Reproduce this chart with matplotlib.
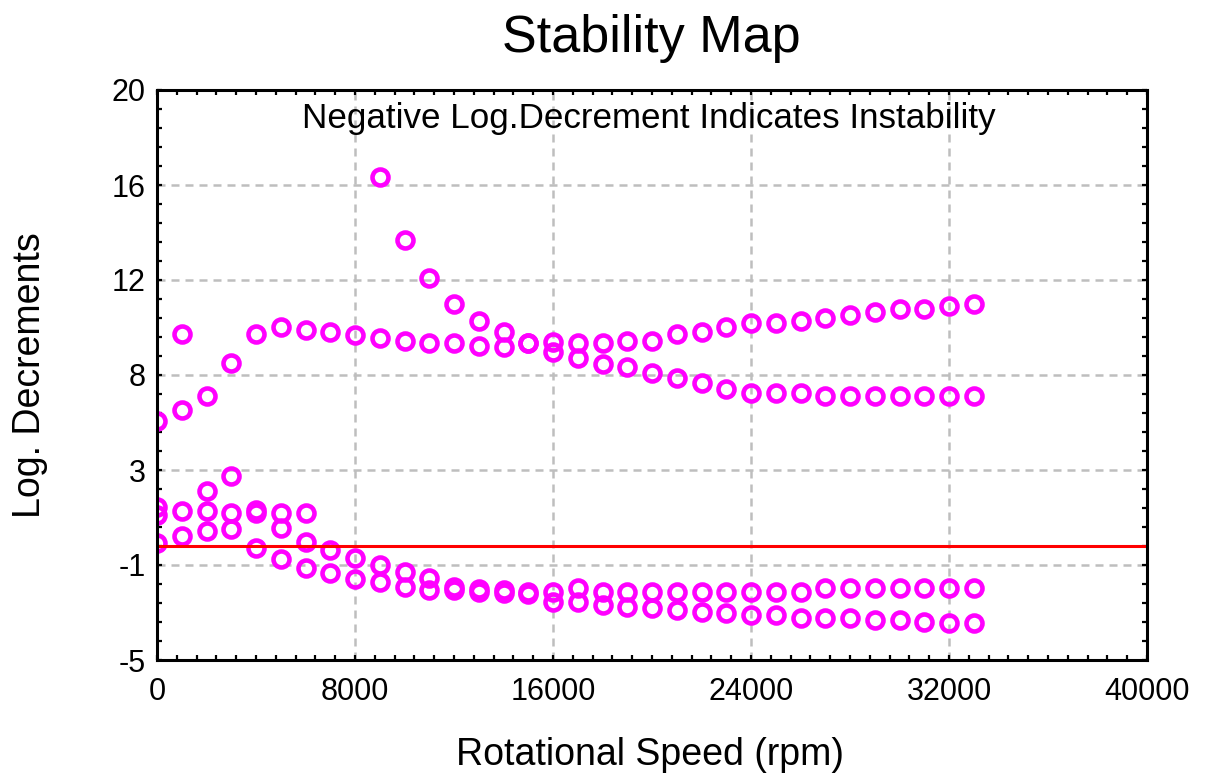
import numpy as np
import matplotlib
matplotlib.use("Agg")
import matplotlib.pyplot as plt
from matplotlib.ticker import FixedLocator, MultipleLocator

plt.rcParams['font.family'] = ['Liberation Sans', 'DejaVu Sans']

# ---------------- data ----------------
title = "Stability Map"
note = "Negative Log.Decrement Indicates Instability"
x_label = "Rotational Speed (rpm)"
y_label = "Log. Decrements"

x_ticks = [0, 8000, 16000, 24000, 32000, 40000]
x_tick_labels = ["0", "8000", "16000", "24000", "32000", "40000"]
y_ticks = [-5, -0.8333, 3.3333, 7.5, 11.6667, 15.8333, 20]
y_tick_labels = ["-5", "-1", "3", "8", "12", "16", "20"]

speed_all = [0, 1000, 2000, 3000, 4000, 5000, 6000, 7000, 8000, 9000, 10000,
             11000, 12000, 13000, 14000, 15000, 16000, 17000, 18000, 19000,
             20000, 21000, 22000, 23000, 24000, 25000, 26000, 27000, 28000,
             29000, 30000, 31000, 32000, 33000]

mode_a = [5.48, 5.96, 6.59, 8.01, 9.29, 9.62, 9.47, 9.37, 9.25, 9.14, 9.00,
          8.89, 8.89, 8.77, 8.74, 8.89, 8.52, 8.23, 7.97, 7.87, 7.60, 7.35,
          7.14, 6.87, 6.72, 6.72, 6.72, 6.58, 6.58, 6.58, 6.58, 6.58, 6.58, 6.58]

mode_b_speed = [1000]
mode_b = [9.29]

mode_c_speed = [9000, 10000, 11000, 12000, 13000, 14000, 15000, 16000, 17000,
                18000, 19000, 20000, 21000, 22000, 23000, 24000, 25000, 26000,
                27000, 28000, 29000, 30000, 31000, 32000, 33000]
mode_c = [16.20, 13.42, 11.77, 10.63, 9.88, 9.40, 8.92, 8.96, 8.89, 8.92, 9.00,
          9.00, 9.28, 9.40, 9.62, 9.77, 9.77, 9.88, 10.01, 10.13, 10.28, 10.39,
          10.39, 10.53, 10.61]

mode_s_speed = [0, 2000, 3000]
mode_s = [1.72, 2.43, 3.07]

mode_p_speed = [0, 1000, 2000, 3000, 4000, 5000, 6000]
mode_p = [1.36, 1.55, 1.55, 1.43, 1.58, 1.43, 1.43]

mode_q = [0.12, 0.44, 0.67, 0.73, 1.45, 0.78, 0.19, -0.18, -0.54, -0.83, -1.13,
          -1.42, -1.80, -1.88, -1.93, -2.00, -2.00, -1.86, -2.00, -2.00, -2.00,
          -2.00, -2.00, -2.00, -2.00, -2.00, -2.00, -1.86, -1.86, -1.86, -1.86,
          -1.86, -1.86, -1.86]

mode_r_speed = [4000, 5000, 6000, 7000, 8000, 9000, 10000, 11000, 12000, 13000,
                14000, 15000, 16000, 17000, 18000, 19000, 20000, 21000, 22000,
                23000, 24000, 25000, 26000, 27000, 28000, 29000, 30000, 31000,
                32000, 33000]
mode_r = [-0.10, -0.58, -0.98, -1.20, -1.46, -1.56, -1.78, -1.93, -1.95, -2.00,
          -2.05, -2.10, -2.44, -2.44, -2.59, -2.66, -2.73, -2.81, -2.88, -2.93,
          -3.03, -3.03, -3.14, -3.14, -3.14, -3.25, -3.25, -3.32, -3.36, -3.36]

stability_limit = 0.0

# ---------------- figure ----------------
W, H = 1207, 778
fig = plt.figure(figsize=(W / 100, H / 100), dpi=100)
ax = fig.add_axes([157 / W, (H - 660) / H, 990 / W, 570 / H])

ax.set_xlim(0, 40000)
ax.set_ylim(-5, 20)

mk = dict(linestyle='none', marker='o', mfc='none', mec='#ff00ff',
          ms=11.5, mew=3.3, zorder=3)
ax.plot(speed_all, mode_a, **mk)
ax.plot(mode_b_speed, mode_b, **mk)
ax.plot(mode_c_speed, mode_c, **mk)
ax.plot(mode_s_speed, mode_s, **mk)
ax.plot(mode_p_speed, mode_p, **mk)
ax.plot(speed_all, mode_q, **mk)
ax.plot(mode_r_speed, mode_r, **mk)

ax.axhline(stability_limit, color='#ff0000', lw=2.2, zorder=4)

ax.xaxis.set_major_locator(FixedLocator(x_ticks))
ax.set_xticklabels(x_tick_labels)
ax.xaxis.set_minor_locator(MultipleLocator(800))
ax.yaxis.set_major_locator(FixedLocator(y_ticks))
ax.set_yticklabels(y_tick_labels)
ax.yaxis.set_minor_locator(FixedLocator(list(np.linspace(-5, 20, 31))))

ax.grid(True, which='major', color='#bebebe', lw=1.8,
        linestyle=(0, (3.2, 2.4)), zorder=1)
ax.set_axisbelow(True)

for sp in ax.spines.values():
    sp.set_linewidth(2.2)
    sp.set_zorder(5)

ax.tick_params(which='both', direction='in', top=True, right=True,
               length=3.8, width=1.6, labelsize=22, color='black')
ax.tick_params(axis='x', which='major', pad=12)
ax.tick_params(axis='y', which='major', pad=8)

fig.text(651 / W, 1 - 52 / H, title, ha='center', va='baseline', fontsize=37.5)
fig.text(649 / W, 1 - 128 / H, note, ha='center', va='baseline', fontsize=25.2)
fig.text(650 / W, 1 - 765 / H, x_label, ha='center', va='baseline', fontsize=27)
fig.text(30 / W, 1 - 375 / H, y_label, ha='center', va='center',
         rotation=90, fontsize=27)

fig.savefig("out.png", dpi=100)
